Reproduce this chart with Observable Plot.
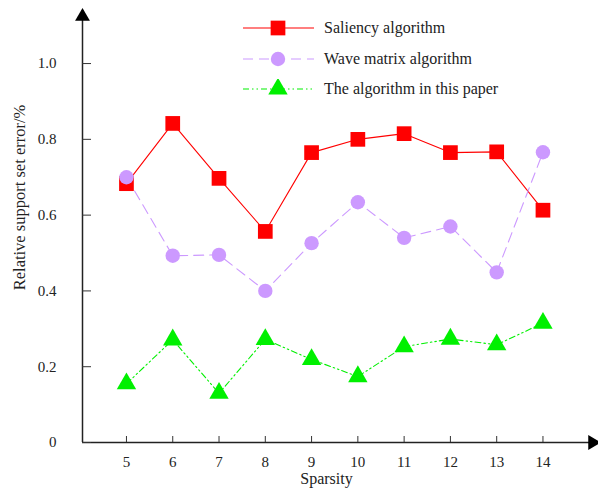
<!DOCTYPE html>
<html><head><meta charset="utf-8">
<script src="https://cdn.jsdelivr.net/npm/d3@7"></script>
<script src="https://cdn.jsdelivr.net/npm/@observablehq/plot@0.6"></script>
<style>
body{margin:0;background:#fff;}
#wrap{position:relative;width:598px;height:493px;font-family:"Liberation Serif","Times New Roman",serif;}
#legend{position:absolute;left:243px;top:13px;font-size:16px;color:#222;}
.row{display:flex;align-items:center;height:30.5px;}
.row svg{display:block;margin-right:10px;}
svg text{font-family:"Liberation Serif","Times New Roman",serif;}
</style></head>
<body><div id="wrap"><div id="legend"></div></div>
<script>
const sparsity = [5,6,7,8,9,10,11,12,13,14];
const saliency = [0.683,0.842,0.697,0.557,0.765,0.800,0.815,0.765,0.767,0.613];
const wave = [0.700,0.493,0.495,0.400,0.526,0.634,0.540,0.570,0.449,0.766];
const ours = [0.155,0.271,0.130,0.272,0.219,0.174,0.253,0.273,0.258,0.315];
const seriesNames = ["Saliency algorithm","Wave matrix algorithm","The algorithm in this paper"];
const yTicks = [0,0.2,0.4,0.6,0.8,1.0];

const FONT = "Liberation Serif";
const colors = ["#ff0000","#cc99ff","#00f000"];
const dashes = [null,"10,6","6,3,1.5,3,1.5,3"];
const symbols = ["square","circle","triangle"];
const radii = [8.3,7.2,7.2];
const seriesVals = [saliency, wave, ours];

const xDom = [4.05, 15.2], yDom = [0, 1.14];
const marks = [];
seriesVals.forEach((vals,i)=>{
  const data = sparsity.map((s,j)=>({x:s,y:vals[j]}));
  marks.push(Plot.line(data,{x:"x",y:"y",stroke:colors[i],strokeWidth:1.1,strokeDasharray:dashes[i]}));
});
seriesVals.forEach((vals,i)=>{
  const data = sparsity.map((s,j)=>({x:s,y:vals[j]}));
  marks.push(Plot.dot(data,{x:"x",y:"y",symbol:symbols[i],r:radii[i],fill:colors[i],stroke:"none"}));
});
// axes lines
marks.push(Plot.ruleX([xDom[0]],{stroke:"#222",strokeWidth:1.5}));
marks.push(Plot.ruleY([0],{stroke:"#222",strokeWidth:1.5}));
marks.push(Plot.dot([{x:xDom[0],y:yDom[1]}],{x:"x",y:"y",symbol:"triangle",r:5.5,fill:"#000",dy:6}));
marks.push(Plot.dot([{x:xDom[1],y:0}],{x:"x",y:"y",symbol:"triangle",r:5.5,fill:"#000",rotate:90,dx:-6}));
// ticks
marks.push(Plot.axisY({ticks:yTicks,tickSize:-9,tickFormat:()=>"",stroke:"#333",label:null}));
marks.push(Plot.axisY({ticks:yTicks,tickSize:0,tickPadding:26,tickFormat:d=>d===0?"0":d3.format(".1f")(d),fontSize:15,fontFamily:FONT,fill:"#222",label:null}));
marks.push(Plot.axisX({ticks:sparsity,tickSize:-6,tickFormat:()=>"",stroke:"#333",label:null}));
marks.push(Plot.axisX({ticks:sparsity,tickSize:0,tickPadding:14,tickFormat:d=>String(d),fontSize:15,fontFamily:FONT,fill:"#222",label:null}));
marks.push(Plot.text(["Sparsity"],{frameAnchor:"bottom",dy:41,dx:-14,fontSize:16,fontFamily:FONT,fill:"#222"}));
marks.push(Plot.text(["Relative support set error/%"],{frameAnchor:"left",textAnchor:"middle",rotate:-90,dx:-63,dy:-29,fontSize:16.5,fontFamily:FONT,fill:"#222"}));

const chart = Plot.plot({
  width:598,height:493,
  marginLeft:82,marginRight:0,marginTop:10,marginBottom:51,
  style:{fontFamily:"Liberation Serif, Times New Roman, serif",fontSize:"15px",background:"transparent",overflow:"visible"},
  x:{domain:xDom},
  y:{domain:yDom},
  marks
});
const wrap = document.getElementById("wrap");
wrap.insertBefore(chart, wrap.firstChild);

// legend
const leg = document.getElementById("legend");
seriesNames.forEach((name,i)=>{
  const row = document.createElement("div"); row.className="row";
  const s = d3.create("svg").attr("width",71).attr("height",20);
  s.append("line").attr("x1",0).attr("x2",71).attr("y1",10).attr("y2",10)
    .attr("stroke",colors[i]).attr("stroke-width",1.1).attr("stroke-dasharray",dashes[i]);
  s.append("path").attr("transform","translate(35,10)")
    .attr("d",d3.symbol(i===0?d3.symbolSquare:i===1?d3.symbolCircle:d3.symbolTriangle, Math.PI*radii[i]*radii[i])())
    .attr("fill",colors[i]);
  row.appendChild(s.node());
  const t = document.createElement("span"); t.textContent=name; row.appendChild(t);
  leg.appendChild(row);
});
</script></body></html>
